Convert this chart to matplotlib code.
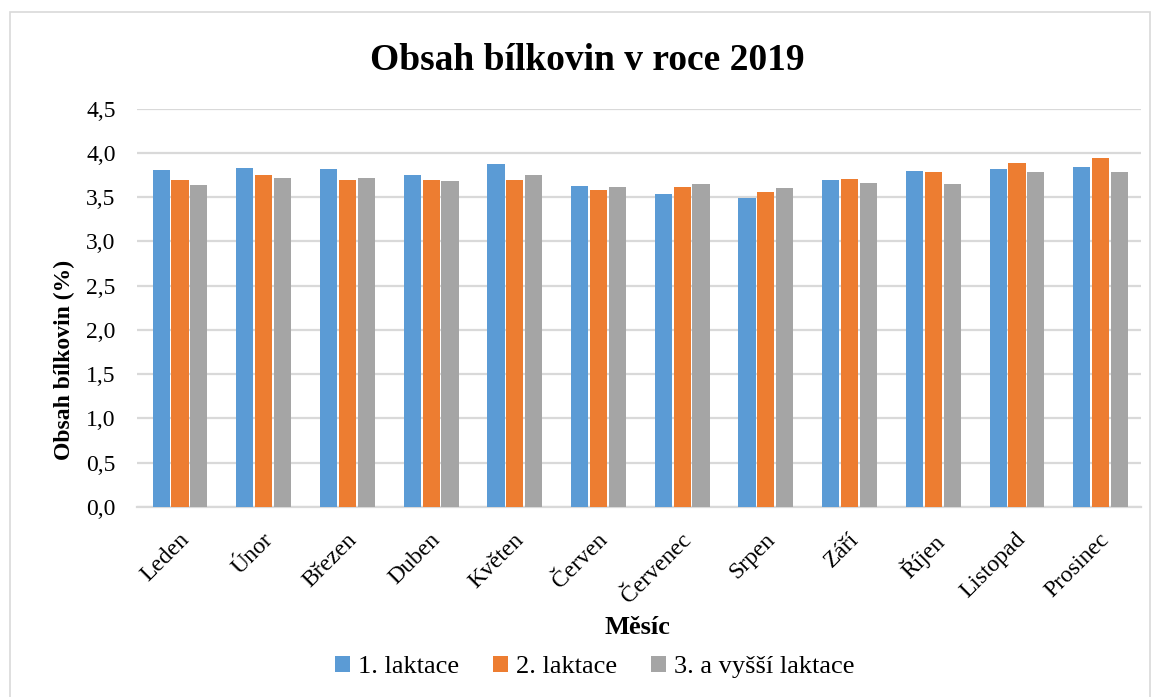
import numpy as np
import matplotlib.pyplot as plt
from matplotlib.patches import Rectangle
from matplotlib.ticker import FuncFormatter

mesice = ["Leden", "Únor", "Březen", "Duben", "Květen", "Červen",
          "Červenec", "Srpen", "Září", "Říjen", "Listopad", "Prosinec"]
laktace_1 = [3.81, 3.83, 3.82, 3.75, 3.87, 3.63, 3.54, 3.49, 3.69, 3.80, 3.82, 3.84]
laktace_2 = [3.70, 3.75, 3.70, 3.70, 3.70, 3.58, 3.62, 3.56, 3.71, 3.79, 3.89, 3.94]
laktace_3 = [3.64, 3.72, 3.72, 3.68, 3.75, 3.62, 3.65, 3.61, 3.66, 3.65, 3.79, 3.79]
serie = ["1. laktace", "2. laktace", "3. a vyšší laktace"]
barvy = ["#5B9BD5", "#ED7D31", "#A5A5A5"]

plt.rcParams['font.family'] = ['Liberation Serif', 'DejaVu Serif']

fig = plt.figure(figsize=(11.57, 6.97), dpi=100)
ax = fig.add_axes([0.118, 0.2726, 0.868, 0.5714])

# light frame around the whole chart
fig.patches.append(Rectangle((0.0086, -0.01), 0.9855, 0.993, transform=fig.transFigure,
                             fill=False, edgecolor="#D9D9D9", linewidth=1.2))

x = np.arange(len(mesice))
w = 0.205
for i, (hodnoty, nazev, barva) in enumerate(zip([laktace_1, laktace_2, laktace_3], serie, barvy)):
    ax.bar(x + (i - 1) * 0.225 + 0.02, hodnoty, width=w, color=barva, label=nazev, zorder=3)

ax.set_xlim(-0.5, len(mesice) - 0.5)
ax.set_ylim(0, 4.5)
ax.set_yticks(np.arange(0, 4.51, 0.5))
ax.yaxis.set_major_formatter(FuncFormatter(lambda v, p: f"{v:.1f}".replace(".", ",")))
ax.grid(axis="y", color="#D9D9D9", linewidth=1.6, zorder=0)
for s in ["top", "right", "left"]:
    ax.spines[s].set_visible(False)
ax.spines["bottom"].set_color("#D9D9D9")
ax.spines["bottom"].set_linewidth(1.6)
ax.tick_params(axis="y", length=0, labelsize=17, pad=15)
ax.tick_params(axis="x", length=0, labelsize=17, pad=16)

ax.set_xticks(x)
ax.set_xticklabels(mesice, rotation=45, ha="right", rotation_mode="anchor")

fig.text(0.508, 0.9, "Obsah bílkovin v roce 2019", fontsize=27, fontweight="bold",
         ha="center", va="baseline")
fig.text(0.056, 0.4835, "Obsah bílkovin (%)", fontsize=17, fontweight="bold",
         rotation=90, ha="center", va="center")
fig.text(0.5506, 0.099, "Měsíc", fontsize=19, fontweight="bold", ha="center", va="center")

fig.legend(loc="center", bbox_to_anchor=(0.514, 0.043), ncol=3, frameon=False,
           fontsize=19, handlelength=0.55, handleheight=0.55, handletextpad=0.3,
           columnspacing=1.3)

fig.savefig("out.png", dpi=100)
